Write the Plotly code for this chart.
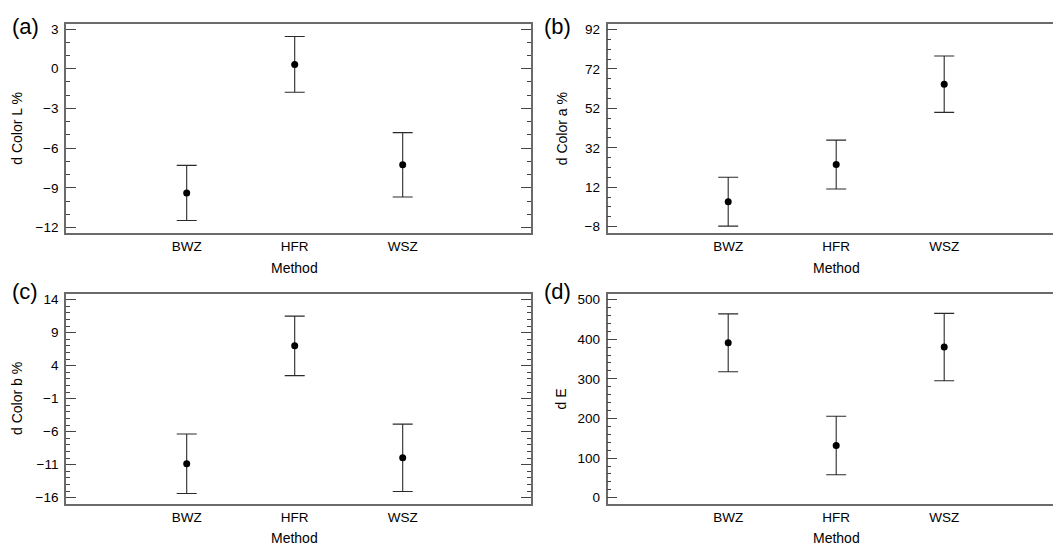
import plotly.graph_objects as go

METHODS = ["BWZ", "HFR", "WSZ"]

# means and half-widths of the intervals
L_MEAN = [-9.38, 0.33, -7.25]
L_ERR = [2.08, 2.10, 2.43]
A_MEAN = [4.7, 23.5, 64.3]
A_ERR = [12.4, 12.4, 14.3]
B_MEAN = [-10.85, 7.0, -9.95]
B_ERR = [4.5, 4.5, 5.1]
E_MEAN = [390.8, 131.7, 380.0]
E_ERR = [73.0, 73.7, 85.0]

PANEL_LABELS = ["(a)", "(b)", "(c)", "(d)"]
Y_TITLES = ["d Color L %", "d Color a %", "d Color b %", "d E"]
X_TITLE = "Method"

FONT = "Arial, Liberation Sans, sans-serif"
FRAME = "#6a6a6a"
TICK = "#444444"
BAR = "#2a2a2a"

# the page body has an 8px margin, so the figure sits 8px in from the corner
OFF = 8
W, H = 1061 - OFF, 548 - OFF

# panel boxes in page pixels: (left, right, top, bottom)
BOXES = [
    (66, 531, 21.5, 232.3),
    (607.5, 1061, 21.5, 232.3),
    (66, 531, 294, 505.3),
    (607.5, 1061, 294, 505.3),
]
YRANGES = [(-12.42, 3.35), (-11.3, 94.6), (-16.9, 14.8), (-15, 513)]
YTICKS = [(0, 3, 1), (-8, 20, 5), (-16, 5, 1), (0, 100, 20)]
PX_PER_CAT = 108.0


def fx(p):
    return (p - OFF) / W


def fy(p):
    return 1 - (p - OFF) / H


fig = go.Figure()

data = [(L_MEAN, L_ERR), (A_MEAN, A_ERR), (B_MEAN, B_ERR), (E_MEAN, E_ERR)]
for i, (mean, err) in enumerate(data):
    n = "" if i == 0 else str(i + 1)
    fig.add_trace(go.Scatter(
        x=METHODS, y=mean, mode="markers",
        marker=dict(color="black", size=7),
        error_y=dict(type="data", array=err, visible=True,
                     color=BAR, thickness=1.1, width=10),
        xaxis="x" + n, yaxis="y" + n, showlegend=False,
    ))

layout = dict(
    width=W, height=H,
    margin=dict(l=0, r=0, t=0, b=0),
    plot_bgcolor="white", paper_bgcolor="white",
    font=dict(family=FONT, size=13.5, color="black"),
)

annotations = []
for i, (l, r, t, b) in enumerate(BOXES):
    n = "" if i == 0 else str(i + 1)
    right_col = i % 2 == 1
    bottom_row = i >= 2
    x0 = -120.7 / PX_PER_CAT
    x1 = x0 + (r - l) / PX_PER_CAT
    t0, dt, mdt = YTICKS[i]
    layout["xaxis" + n] = dict(
        domain=[fx(l), min(fx(r), 1.0)], anchor="y" + n,
        type="category", range=[x0, x1],
        showline=True, linecolor=FRAME, linewidth=1.7,
        mirror=True, ticks="", showgrid=False, zeroline=False,
        ticklabelstandoff=0,
    )
    layout["yaxis" + n] = dict(
        domain=[fy(b), fy(t)], anchor="x" + n,
        range=list(YRANGES[i]),
        showline=True, linecolor=FRAME, linewidth=1.7,
        mirror=False if right_col else "allticks",
        ticks="inside", ticklen=10, tickcolor=TICK, tickwidth=1,
        tick0=t0, dtick=dt,
        minor=dict(ticks="inside", ticklen=4, tickcolor=TICK,
                   tickwidth=1, tick0=t0, dtick=mdt, showgrid=False),
        showgrid=False, zeroline=False,
        ticklabelstandoff=3,
    )
    # panel label
    annotations.append(dict(
        text=PANEL_LABELS[i], xref="paper", yref="paper",
        x=fx(l - (50 if right_col else 41)),
        y=fy(t - 3 if bottom_row else t + 2),
        showarrow=False, font=dict(size=22),
        xanchor="center", yanchor="middle",
    ))
    # y title
    annotations.append(dict(
        text=Y_TITLES[i], xref="paper", yref="paper",
        x=fx(l - (46 if right_col else 49)), y=fy((t + b) / 2),
        textangle=-90, font=dict(size=14),
        showarrow=False, xanchor="center", yanchor="middle",
    ))
    # x title
    annotations.append(dict(
        text=X_TITLE, xref="x" + n, yref="paper",
        x="HFR", y=fy(b + 35), font=dict(size=14),
        showarrow=False, xanchor="center", yanchor="middle",
    ))

layout["annotations"] = annotations
fig.update_layout(**layout)
fig.write_html("out.html")
